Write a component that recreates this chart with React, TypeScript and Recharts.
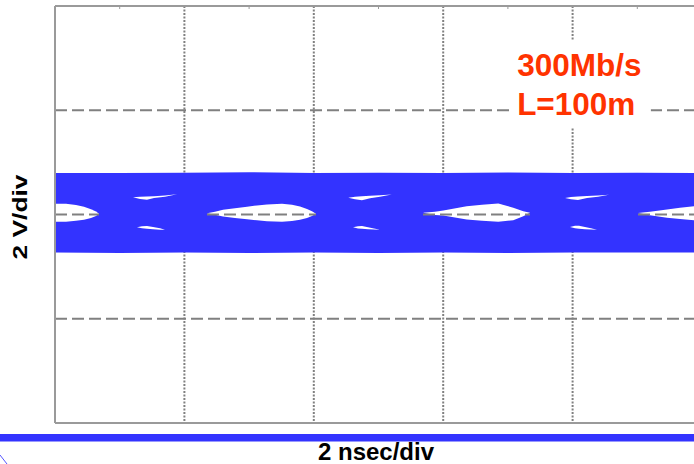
import React from 'react';
import { ComposedChart, Area, Line, XAxis, YAxis, CartesianGrid, Customized } from 'recharts';

// time axis in ns (2 ns/div), voltage axis in V (2 V/div)
const xDomain: [number, number] = [0, 10];
const yDomain: [number, number] = [-4, 4];
const xMajorTicks = [2, 4, 6, 8];
const yMajorTicks = [-2, 0, 2];
const xMinorTicks = [1, 3, 5, 7, 9];

// annotation box extent (ns, V)
const noteX: [number, number] = [7.05, 9.21];
const noteY: [number, number] = [1.68, 3.35];
const noteLines = ['300Mb/s', 'L=100m'];

// [t (ns), low (V), high (V)]
const bandEdges: [number, number, number][] = [
  [0, -0.731, 0.798], [1, -0.737, 0.798], [2, -0.727, 0.802], [3, -0.737, 0.812],
  [4, -0.731, 0.798], [5, -0.740, 0.802], [6, -0.727, 0.798], [7, -0.740, 0.808],
  [8, -0.731, 0.798], [9, -0.731, 0.802], [10, -0.731, 0.798],
];

const eye0: [number, number, number][] = [
  [0, -0.140, 0.206], [0.17, -0.140, 0.208], [0.325, -0.121, 0.183], [0.448, -0.100, 0.148],
  [0.556, -0.067, 0.102], [0.634, -0.029, 0.058], [0.68, 0.013, 0.013],
];
const eye1: [number, number, number][] = [
  [2.349, 0.023, 0.023], [2.473, -0.006, 0.052], [2.597, -0.038, 0.090], [2.782, -0.067, 0.121],
  [2.968, -0.090, 0.148], [3.122, -0.112, 0.173], [3.277, -0.129, 0.192], [3.509, -0.140, 0.208],
  [3.663, -0.125, 0.187], [3.787, -0.102, 0.154], [3.895, -0.067, 0.106], [3.972, -0.029, 0.062],
  [4.034, 0.015, 0.015],
];
const eye2: [number, number, number][] = [
  [5.688, 0.033, 0.033], [5.873, -0.010, 0.054], [6.002, -0.019, 0.077], [6.363, -0.096, 0.160],
  [6.6, -0.121, 0.188], [6.852, -0.140, 0.212], [7.083, -0.110, 0.129], [7.238, -0.033, 0.063],
  [7.342, 0.033, 0.033],
];
const eye3: [number, number, number][] = [
  [9.011, 0.029, 0.029], [9.196, -0.015, 0.052], [9.459, -0.063, 0.096], [9.66, -0.087, 0.129],
  [9.876, -0.110, 0.160], [10, -0.119, 0.177],
];

const lensUpperA: [number, number, number][] = [
  [1.206, 0.331, 0.331], [1.314, 0.298, 0.340], [1.422, 0.283, 0.346], [1.53, 0.315, 0.352],
  [1.7, 0.342, 0.365], [1.886, 0.388, 0.388],
];
const lensUpperB: [number, number, number][] = [
  [4.533, 0.321, 0.321], [4.637, 0.292, 0.342], [4.745, 0.275, 0.352], [4.869, 0.313, 0.360],
  [5.023, 0.340, 0.371], [5.204, 0.385, 0.385],
];
const lensUpperC: [number, number, number][] = [
  [7.883, 0.317, 0.317], [7.975, 0.292, 0.337], [8.083, 0.279, 0.346], [8.223, 0.317, 0.356],
  [8.393, 0.342, 0.365], [8.563, 0.381, 0.381],
];
const lensLowerD: [number, number, number][] = [
  [1.267, -0.244, -0.244], [1.345, -0.265, -0.227], [1.422, -0.273, -0.221], [1.515, -0.281, -0.242],
  [1.623, -0.292, -0.265], [1.7, -0.294, -0.294],
];
const lensLowerE: [number, number, number][] = [
  [4.606, -0.246, -0.246], [4.683, -0.269, -0.227], [4.745, -0.275, -0.223], [4.838, -0.283, -0.246],
  [4.93, -0.290, -0.267], [5.023, -0.292, -0.292],
];
const lensLowerF: [number, number, number][] = [
  [7.96, -0.240, -0.240], [8.037, -0.263, -0.217], [8.099, -0.271, -0.215], [8.192, -0.281, -0.240],
  [8.284, -0.288, -0.265], [8.377, -0.294, -0.294],
];

const REF_LEVEL = 0;

const toRows = (a: [number, number, number][]) =>
  a.map(([t, lo, hi]) => ({ t, r: [lo, hi], mid: REF_LEVEL }));

const BLUE = '#3333FF';
const GRID = '#808080';
const FRAME = '#9a9a9a';
const RED = '#FF3300';
const FONT = '"Liberation Sans", Arial, Helvetica, sans-serif';

const eyes = [eye0, eye1, eye2, eye3].map(toRows);
const lenses = [lensUpperA, lensUpperB, lensUpperC, lensLowerD, lensLowerE, lensLowerF].map(toRows);
const band = toRows(bandEdges);
const noteBox = noteX.map((t) => ({ t, r: [noteY[0], noteY[1]] }));

const EmptyTick = () => <g />;

const NoteLabel = (props: any) => {
  if (props.index !== 0) return <g />;
  const vb = props.viewBox || {};
  const x = (props.x ?? vb.x ?? 0) + 6;
  const y = Math.min(props.y ?? vb.y ?? 0, vb.y ?? Infinity);
  return (
    <g>
      {noteLines.map((s, i) => (
        <text key={s} x={x} y={y + 36 + i * 39} fill={RED} fontSize={31.5} fontWeight="bold" fontFamily={FONT}>
          {s}
        </text>
      ))}
    </g>
  );
};

const Decorations = () => (
  <g>
    <text
      transform="translate(27,217) rotate(-90)"
      textAnchor="middle"
      fontSize={19.5}
      fontWeight="bold"
      fontFamily={FONT}
      fill="#000"
      textLength={85}
      lengthAdjust="spacingAndGlyphs"
    >
      2 V/div
    </text>
    <rect x={0} y={434} width={720} height={7.5} fill={BLUE} />
    <text x={376} y={460} textAnchor="middle" fontSize={24} fontWeight="bold" fontFamily={FONT} fill="#000">
      2 nsec/div
    </text>
    <path d="M0,455 L7,464" stroke="#5555ff" strokeWidth={1} fill="none" />
  </g>
);

export default function App() {
  return (
    <div style={{ position: 'absolute', left: 0, top: 0, width: 694, height: 464, overflow: 'hidden', background: '#fff' }}>
      <ComposedChart width={720} height={464} margin={{ top: 6, left: 54, right: 18, bottom: 40 }}>
        <CartesianGrid horizontal={false} vertical={true} stroke={GRID} strokeWidth={2} strokeDasharray="2 1.5" />
        <CartesianGrid horizontal={true} vertical={false} stroke={GRID} strokeWidth={2} strokeDasharray="12 5" />
        <XAxis type="number" dataKey="t" domain={xDomain} ticks={xMajorTicks} allowDataOverflow
          height={1} tick={EmptyTick} tickLine={false} axisLine={{ stroke: FRAME, strokeWidth: 2 }} />
        <XAxis xAxisId="top" orientation="top" type="number" dataKey="t" domain={xDomain} ticks={xMinorTicks} allowDataOverflow
          height={1} tick={EmptyTick} tickSize={3} mirror axisLine={{ stroke: FRAME, strokeWidth: 2 }} tickLine={{ stroke: FRAME, strokeWidth: 1 }} />
        <YAxis type="number" domain={yDomain} ticks={yMajorTicks} allowDataOverflow width={1} tick={EmptyTick} tickLine={false}
          axisLine={{ stroke: FRAME, strokeWidth: 2 }} />
        <Area data={band} dataKey="r" type="linear" stroke="none" fill={BLUE} fillOpacity={1} isAnimationActive={false} dot={false} activeDot={false} />
        {eyes.map((d, i) => (
          <Area key={'eye' + i} data={d} dataKey="r" type="linear" stroke="none" fill="#ffffff" fillOpacity={1} isAnimationActive={false} dot={false} activeDot={false} />
        ))}
        {lenses.map((d, i) => (
          <Area key={'lens' + i} data={d} dataKey="r" type="linear" stroke="none" fill="#ffffff" fillOpacity={1} isAnimationActive={false} dot={false} activeDot={false} />
        ))}
        {eyes.map((d, i) => (
          <Line key={'mid' + i} data={d} dataKey="mid" type="linear" stroke={GRID} strokeWidth={2} strokeDasharray="12 5" dot={false} activeDot={false} isAnimationActive={false} />
        ))}
        <Area data={noteBox} dataKey="r" type="linear" stroke="none" fill="#ffffff" fillOpacity={1} isAnimationActive={false} dot={false} activeDot={false} label={NoteLabel} />
        <Customized component={Decorations} />
      </ComposedChart>
    </div>
  );
}
